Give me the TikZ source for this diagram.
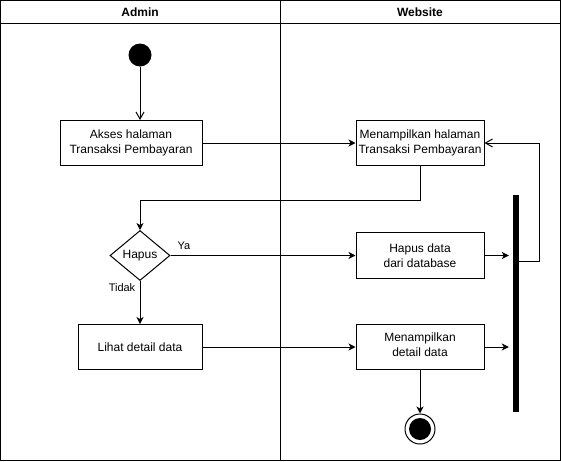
\documentclass[tikz,border=0pt]{standalone}
\usepackage{fontspec}
\setmainfont{Liberation Sans}
\usetikzlibrary{shapes.geometric,arrows.meta,calc}
\tikzset{
  actbox/.style={draw,rectangle,line width=1pt,inner sep=0pt,align=center,font=\fontsize{12}{15}\selectfont},
  flow/.style={line width=1pt,-{Stealth[length=7pt,width=7pt,inset=2pt]}},
  openflow/.style={line width=1pt,-{Straight Barb[length=7pt,width=8pt]}},
  lbl/.style={font=\fontsize{11}{13}\selectfont,inner sep=0pt},
  hdr/.style={font=\bfseries\fontsize{12}{14}\selectfont,inner sep=0pt}
}
\begin{document}
\begin{tikzpicture}[x=1pt,y=-1pt]
\useasboundingbox (0,0) rectangle (561,461);
% swimlanes
\draw[line width=1pt] (0.5,0.5) rectangle (560.5,460.5);
\draw[line width=1pt] (0.5,23.5) -- (560.5,23.5);
\draw[line width=1pt] (280.5,0.5) -- (280.5,460.5);
\node[hdr] (hA) at (140,12) {Admin};
\node[hdr] (hW) at (420,12) {Website};
% nodes
\node[circle,fill=black,minimum size=23pt,inner sep=0pt] (start) at (140,55) {};
\node[actbox,minimum width=142pt,minimum height=45pt] (a1) at (131,143) {Akses halaman\\Transaksi Pembayaran};
\node[actbox,minimum width=128pt,minimum height=45pt] (a2) at (420,143) {Menampilkan halaman\\Transaksi Pembayaran};
\node[diamond,draw,line width=1pt,minimum width=60pt,minimum height=50pt,inner sep=0pt,font=\fontsize{12}{15}\selectfont] (dec) at (140,255.5) {Hapus};
\node[actbox,minimum width=128pt,minimum height=46pt] (a3) at (420,255.5) {Hapus data\\dari database};
\node[actbox,minimum width=124pt,minimum height=45pt] (a4) at (140,347) {Lihat detail data};
\node[actbox,minimum width=128pt,minimum height=45pt] (a5) at (420,347) {Menampilkan\\detail data\rule[-4pt]{0pt}{0pt}};
\node[rectangle,fill=black,minimum width=6pt,minimum height=217pt,inner sep=0pt] (bar) at (516,303.5) {};
\node[circle,draw,line width=1pt,minimum size=30pt,inner sep=0pt] (fin) at (420,429) {};
\node[circle,fill=black,minimum size=22pt,inner sep=0pt] (finin) at (fin.center) {};
\coordinate (barloop) at (519,261);
\coordinate (loopcorner) at (539,143);
\coordinate (bend) at (420,200);
% edges
\draw[openflow] (start.south) -- (start.south |- a1.north);
\draw[flow] (a1.east) -- (a2.west);
\draw[openflow] (barloop) -| (loopcorner) -- (a2.east);
\draw[flow] (a2.south) -- (bend) -| (dec.north);
\draw[flow] (dec.east) -- (a3.west);
\node[lbl] (ya) at (184,246) {Ya};
\draw[flow,shorten >=4pt] (a3.east) -- (a3.east -| bar.west);
\draw[flow] (dec.south) -- (a4.north);
\node[lbl] (tidak) at (122,288) {Tidak};
\draw[flow] (a4.east) -- (a5.west);
\draw[flow,shorten >=4pt] (a5.east) -- (a5.east -| bar.west);
\draw[flow] (a5.south) -- (fin.north);
\end{tikzpicture}
\end{document}
